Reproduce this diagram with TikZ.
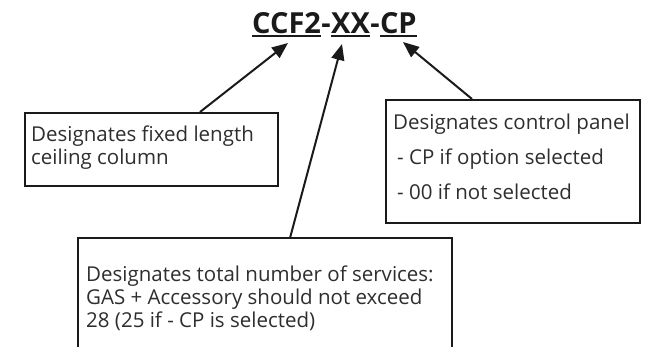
\documentclass[tikz,border=0pt]{standalone}
\usepackage{fontspec}
\setmainfont{Open Sans}
\usetikzlibrary{arrows.meta,calc}
\definecolor{ink}{HTML}{1A1A1A}
\definecolor{txt}{HTML}{2E2E2E}
\begin{document}
\begin{tikzpicture}[x=1pt,y=-1pt,
  frame/.style={draw=ink,line width=1.8pt,rectangle,anchor=north west,inner sep=0pt},
  label/.style={align=left,inner sep=0pt,anchor=north west,font=\fontsize{20.5}{23}\selectfont,text=txt},
  ptr/.style={draw=ink,line width=2pt,-{Triangle[length=16pt,width=13pt]}},
  uline/.style={draw=ink,line width=2.4pt},
  titlepart/.style={font=\fontsize{29}{34}\bfseries\selectfont,text=ink,inner sep=0pt,anchor=base west}]
\useasboundingbox (0,0) rectangle (650,346);
% title
\node[titlepart] (ccf) at (252,33) {CCF2};
\node[titlepart] (d1) at (ccf.base east) {-};
\node[titlepart] (xx) at (d1.base east) {XX};
\node[titlepart] (d2) at (xx.base east) {-};
\node[titlepart] (cp) at (d2.base east) {CP};
\draw[uline] ([yshift=-3pt]ccf.base west) -- ([yshift=-3pt]ccf.base east);
\draw[uline] ([yshift=-3pt]xx.base west) -- ([yshift=-3pt]xx.base east);
\draw[uline] ([yshift=-3pt]cp.base west) -- ([yshift=-3pt]cp.base east);
% arrow tips
\coordinate (tip1) at (288,43);
\coordinate (tip2) at (342,44);
\coordinate (tip3) at (403,42);
% left box
\node[frame,minimum width=253pt,minimum height=73pt] (lbox) at (24,112) {};
\node[label] (ltext) at (31,126) {Designates fixed length\\ceiling column};
% right box
\node[frame,minimum width=254pt,minimum height=123pt] (rbox) at (385,99) {};
\node[label] (rtext) at (393,114) {Designates control panel\\[12pt]\hspace{4pt}- CP if option selected\\[12pt]\hspace{4pt}- 00 if not selected};
% bottom box (open at the bottom)
\node[frame,draw=none,minimum width=372pt,minimum height=110pt] (bbox) at (78,238) {};
\node[label] (btext) at (86,266) {Designates total number of services:\\GAS + Accessory should not exceed\\28 (25 if - CP is selected)};
\draw[draw=ink,line width=1.8pt] (bbox.south west) -- (bbox.north west) -- (bbox.north east) -- (bbox.south east);
% arrows
\draw[ptr] ([xshift=176pt]lbox.north west) -- (tip1);
\draw[ptr] ([xshift=212pt]bbox.north west) -- (tip2);
\draw[ptr] ([xshift=87pt]rbox.north west) -- (tip3);
\end{tikzpicture}
\end{document}
